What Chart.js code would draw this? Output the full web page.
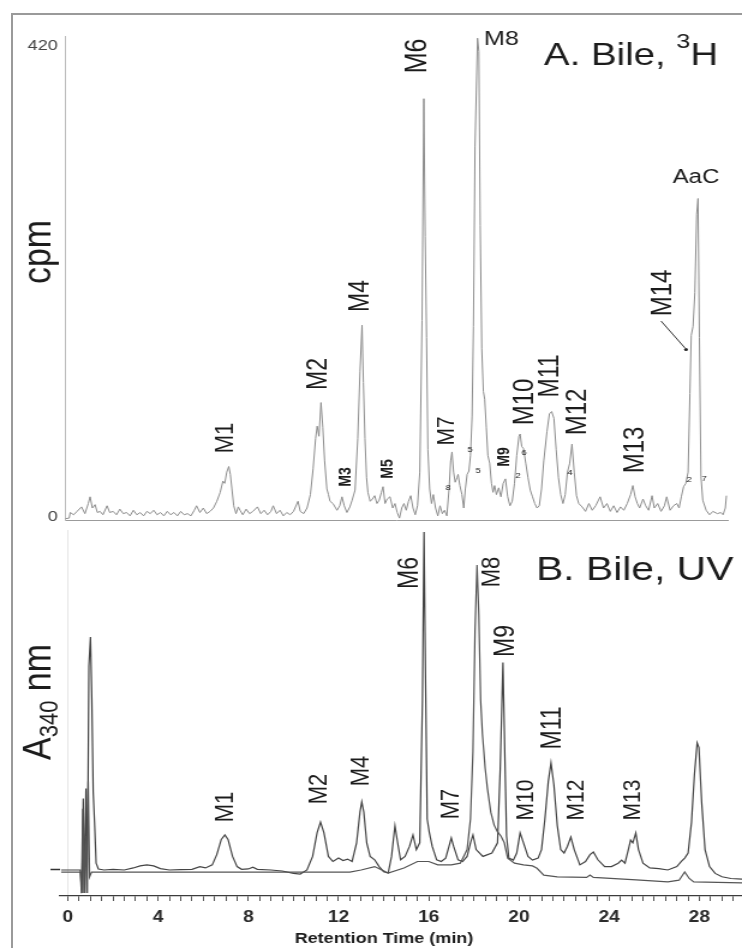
<!DOCTYPE html>
<html>
<head>
<meta charset="utf-8">
<title>Bile: 3H radiochromatogram and UV trace</title>
<script src="https://cdn.jsdelivr.net/npm/chart.js@4.4.1/dist/chart.umd.min.js"></script>
<style>
  html, body { margin: 0; background: #fff; }
  #fig { position: relative; width: 742px; height: 948px; overflow: hidden; }
  #frame { position: absolute; left: 11px; top: 13px; width: 760px; height: 960px;
           border-top: 2px solid #9a9a9a; border-left: 2px solid #9a9a9a; }
  canvas { position: absolute; left: 0; transform-origin: 0 0; }
</style>
</head>
<body>
<div id="fig">
  <div id="frame"></div>
  <canvas id="chartA" width="618" height="540" style="top:0"></canvas>
  <canvas id="chartB" width="618" height="418" style="top:530px"></canvas>
</div>
<script>
// ---- data ----
// A. radioactivity (cpm) against retention time (min)
const timeA = [
  -0.12, 0.05, 0.1, 0.25, 0.4, 0.6, 0.75, 0.9, 0.98, 1.08,
  1.2, 1.3, 1.42, 1.55, 1.73, 1.85, 2.0, 2.15, 2.3, 2.45,
  2.6, 2.75, 2.9, 3.05, 3.2, 3.35, 3.5, 3.65, 3.8, 3.95,
  4.1, 4.25, 4.4, 4.55, 4.7, 4.85, 5.0, 5.15, 5.3, 5.45,
  5.6, 5.7, 5.85, 6.0, 6.15, 6.3, 6.45, 6.6, 6.75, 6.87,
  6.95, 7.04, 7.13, 7.2, 7.27, 7.35, 7.45, 7.55, 7.63, 7.75,
  7.9, 8.05, 8.2, 8.4, 8.55, 8.7, 8.85, 9.0, 9.1, 9.25,
  9.4, 9.55, 9.7, 9.85, 10.0, 10.2, 10.3, 10.45, 10.6, 10.75,
  10.87, 10.98, 11.05, 11.13, 11.22, 11.3, 11.38, 11.48, 11.55, 11.62,
  11.75, 11.93, 12.05, 12.15, 12.25, 12.37, 12.5, 12.6, 12.73, 12.85,
  12.95, 13.04, 13.1, 13.17, 13.24, 13.3, 13.4, 13.5, 13.6, 13.7,
  13.8, 13.9, 13.97, 14.06, 14.15, 14.28, 14.4, 14.5, 14.6, 14.7,
  14.8, 14.9, 15.0, 15.1, 15.2, 15.3, 15.4, 15.5, 15.6, 15.7,
  15.78, 15.84, 15.9, 15.96, 16.04, 16.12, 16.2, 16.3, 16.4, 16.5,
  16.6, 16.7, 16.8, 16.9, 16.97, 17.03, 17.1, 17.17, 17.25, 17.3,
  17.38, 17.47, 17.55, 17.62, 17.7, 17.78, 17.85, 17.92, 17.98, 18.05,
  18.16, 18.22, 18.28, 18.35, 18.42, 18.48, 18.55, 18.62, 18.7, 18.78,
  18.85, 18.92, 19.0, 19.1, 19.2, 19.3, 19.4, 19.5, 19.6, 19.7,
  19.8, 19.9, 20.0, 20.05, 20.12, 20.2, 20.3, 20.4, 20.5, 20.6,
  20.7, 20.8, 20.9, 21.0, 21.1, 21.24, 21.35, 21.45, 21.55, 21.65,
  21.75, 21.85, 21.95, 22.05, 22.15, 22.25, 22.35, 22.45, 22.55, 22.65,
  22.8, 22.95, 23.1, 23.25, 23.4, 23.6, 23.75, 23.9, 24.05, 24.2,
  24.35, 24.5, 24.65, 24.8, 24.95, 25.05, 25.15, 25.25, 25.35, 25.5,
  25.62, 25.75, 25.9, 26.0, 26.15, 26.3, 26.45, 26.55, 26.7, 26.85,
  27.0, 27.1, 27.2, 27.3, 27.4, 27.5, 27.58, 27.64, 27.72, 27.8,
  27.88, 27.94, 28.0, 28.07, 28.15, 28.3, 28.45, 28.6, 28.8, 28.95,
  29.05, 29.15, 29.2
];
const cpmA = [
  -1.5, -1, 4, 2, 5, 9, 3, 12, 18, 8,
  11, 4, 5, 2, 10, 4, 5, 2, 7, 3,
  4, 1, 6, 2, 4, 1, 5, 3, 6, 2,
  4, 1, 5, 2, 4, 1, 5, 2, 3, 1,
  6, 10, 4, 8, 3, 5, 8, 14, 22, 32,
  30, 40, 45, 38, 25, 10, 3, 9, 6, 2,
  7, 3, 5, 9, 3, 6, 2, 5, 10, 3,
  6, 1, 4, 2, 5, 14, 5, 3, 8, 20,
  43, 70, 81, 72, 102, 80, 50, 25, 20, 14,
  12, 6, 10, 18, 10, 4, 9, 15, 24, 70,
  130, 171, 120, 70, 35, 22, 14, 16, 19, 12,
  15, 22, 27, 12, 16, 18, 8, 12, 4, -1,
  8, 12, 6, 14, 19, 8, 2, 10, 40, 175,
  373, 250, 160, 60, 25, 12, 20, 8, 1, 10,
  3, 6, 1, 25, 50, 58, 40, 31, 35, 38,
  28, 20, 8, 25, 38, 41, 55, 90, 170, 330,
  427, 415, 260, 150, 112, 105, 80, 55, 48, 30,
  22, 28, 20, 26, 18, 30, 34, 18, 10, 14,
  30, 55, 72, 74, 63, 61, 48, 35, 24, 18,
  12, 8, 10, 25, 50, 76, 92, 94, 88, 60,
  35, 20, 12, 20, 40, 48, 65, 40, 19, 12,
  9, 5, 12, 6, 10, 18, 8, 12, 5, 10,
  4, 9, 6, 12, 20, 28, 18, 12, 8, 16,
  10, 6, 19, 8, 12, 5, 10, 18, 6, 10,
  12, 8, 18, 27, 30, 40, 110, 162, 170, 200,
  270, 284, 160, 36, 15, 6, 2, 5, 3, 4,
  2, 8, 19
];

// B. absorbance at 340 nm, two overlaid traces (arbitrary units, 0 = baseline)
const timeUV1 = [
  -0.3, 0.55, 0.62, 0.68, 0.73, 0.8, 0.86, 0.93, 1.0, 1.06,
  1.12, 1.18, 1.25, 1.35, 1.6, 2.0, 2.5, 2.9, 3.2, 3.5,
  3.8, 4.1, 4.5, 5.0, 5.5, 5.85, 6.1, 6.4, 6.6, 6.8,
  6.96, 7.1, 7.3, 7.5, 7.7, 8.0, 8.2, 8.4, 9.0, 9.5,
  10.0, 10.3, 10.6, 10.85, 11.05, 11.2, 11.35, 11.55, 11.75, 12.0,
  12.2, 12.4, 12.6, 12.8, 12.95, 13.03, 13.12, 13.25, 13.4, 13.6,
  13.8, 14.0, 14.2, 14.35, 14.5, 14.62, 14.75, 14.95, 15.15, 15.3,
  15.45, 15.6, 15.72, 15.79, 15.85, 15.93, 16.02, 16.15, 16.35, 16.55,
  16.75, 16.9, 17.0, 17.1, 17.3, 17.5, 17.7, 17.85, 17.96, 18.1,
  18.4, 18.8, 19.05, 19.17, 19.29, 19.37, 19.45, 19.55, 19.75, 19.9,
  20.05, 20.2, 20.4, 20.6, 20.85, 21.0, 21.15, 21.3, 21.42, 21.55,
  21.7, 21.85, 22.0, 22.15, 22.3, 22.45, 22.7, 22.95, 23.15, 23.3,
  23.5, 23.8, 24.1, 24.4, 24.55, 24.7, 24.85, 24.95, 25.05, 25.18,
  25.3, 25.5, 25.8, 26.2, 26.6, 27.0, 27.2, 27.35, 27.5, 27.65,
  27.78, 27.9, 27.98, 28.1, 28.25, 28.45, 28.7, 29.0, 29.4, 29.89
];
const uv1 = [
  0, 0, -6.8, 21, -6.8, 24, -6.8, 60, 68.5, 50,
  23, 14, 2, 0.3, 0, 0.2, 0, 0.6, 1.2, 1.5,
  1.2, 0.4, 0, 0.1, 0.2, 1.0, 0.6, 1.5, 4.5, 9,
  10.3, 9, 4, 1, 0.2, 0.3, 0.8, 0.2, 0, -0.3,
  -1, -1.2, 0, 4, 11, 14.1, 11, 4, 2.5, 3.5,
  2.8, 3.2, 2.5, 8, 17, 20, 17, 8, 4, 3,
  1, -0.5, -0.9, 4, 13, 8, 3, 4, 7, 10.3,
  6, 8, 50, 99.4, 60, 15, 11.2, 7, 3, 2.5,
  3.5, 7, 9.4, 7, 3, 2.5, 4, 8, 10.3, 6,
  4, 5, 8, 30, 61, 35, 10, 3.5, 2.9, 5,
  10.9, 8, 4, 2.9, 3.5, 6, 15, 26, 31.5, 25,
  13, 6, 5, 7, 9.7, 6, 1.5, 2.5, 4.5, 5.3,
  3, 1, 1, 2, 2.9, 2, 6, 8.8, 8, 10.9,
  6, 2, 0.6, 0.4, 0, 1, 2.5, 3.5, 5, 14,
  28, 37.4, 36, 20, 6, 1, -1, -2, -2.5, -2.7
];
const timeUV2 = [
  -0.3, 0.55, 0.6, 0.66, 0.71, 0.77, 0.83, 0.9, 0.96, 1.05,
  12.5, 13.0, 13.6, 14.2, 14.9, 15.5, 16.0, 16.4, 17.0, 17.4,
  17.7, 17.85, 17.96, 18.05, 18.14, 18.22, 18.3, 18.38, 18.5, 18.6,
  18.75, 18.9, 19.05, 19.2, 19.35, 19.5, 19.8, 20.2, 20.6, 20.8,
  21.1, 21.7, 23.0, 23.15, 23.3, 25.2, 26.6, 27.1, 27.35, 27.55,
  27.75, 29.89
];
const uv2 = [
  -0.6, -0.6, -6.8, 18, -6.8, 10, -6.8, 26, -2, -0.6,
  -0.6, 0, 1, -0.9, 0.6, 2.5, 2.5, 1.5, 1.5, 2,
  6, 15, 35, 70, 89.7, 75, 50, 40, 30, 24,
  17, 13.2, 11.2, 10, 8, 3.5, 2, 1.5, 1.2, 0.5,
  -1.5, -2, -2.2, -1.5, -2.2, -2.9, -3.5, -3, -0.6, -2.5,
  -3.5, -3.8
];

const xTickLabels = [0, 4, 8, 12, 16, 20, 24, 28];
const cpmTicks = [0, 420];

// ---- layout ----
const S = 742 / 618;   // the figure is stretched horizontally, so both canvases are too
const FONT = '"Liberation Sans", Arial, Helvetica, sans-serif';

// label anchors are in page pixels: x = left / centre / baseline (rotated), y = baseline / centre (rotated)
const labelsA = [
  { parts: [{ t: 'A. Bile, ' }, { t: '3', size: 21, dy: -17 }, { t: 'H' }], x: 544, y: 65, size: 32, align: 'left' },
  { t: 'M8', x: 484, y: 45, size: 21, align: 'left' },
  { t: 'AaC', x: 696, y: 183, size: 20 },
  { t: 'cpm', x: 50, y: 252, size: 34, rot: true },
  { t: 'M1', x: 233, y: 438, size: 22, rot: true },
  { t: 'M2', x: 327, y: 374, size: 23, rot: true },
  { t: 'M4', x: 368, y: 296, size: 23, rot: true },
  { t: 'M6', x: 426, y: 56, size: 25, rot: true },
  { t: 'M7', x: 454, y: 431, size: 21, rot: true },
  { t: 'M10', x: 533, y: 402, size: 24, rot: true },
  { t: 'M11', x: 558, y: 376, size: 23, rot: true },
  { t: 'M12', x: 586, y: 412, size: 24, rot: true },
  { t: 'M13', x: 643, y: 450, size: 24, rot: true },
  { t: 'M14', x: 671, y: 293, size: 24, rot: true },
  { t: 'M3', x: 350, y: 477, size: 14, rot: true, bold: true },
  { t: 'M5', x: 393, y: 469, size: 14, rot: true, bold: true },
  { t: 'M9', x: 509, y: 457, size: 14, rot: true, bold: true },
  { t: '5', x: 470, y: 452, size: 8 },
  { t: '5', x: 478, y: 473, size: 8 },
  { t: '8', x: 448, y: 490, size: 8 },
  { t: '6', x: 524, y: 455, size: 8 },
  { t: '2', x: 518, y: 478, size: 8 },
  { t: '4', x: 570, y: 475, size: 8 },
  { t: '2', x: 689, y: 482, size: 8 },
  { t: '7', x: 704, y: 481, size: 8 }
];
const labelsB = [
  { t: 'B. Bile, UV', x: 536, y: 580, size: 34, align: 'left' },
  { parts: [{ t: 'A' }, { t: '340', size: 22, dy: 6 }, { t: ' nm' }], x: 50, y: 760, size: 34, rot: true, align: 'left' },
  { t: 'M1', x: 233, y: 807, size: 22, rot: true },
  { t: 'M2', x: 327, y: 789, size: 22, rot: true },
  { t: 'M4', x: 368, y: 771, size: 22, rot: true },
  { t: 'M6', x: 418, y: 573, size: 23, rot: true },
  { t: 'M7', x: 459, y: 804, size: 22, rot: true },
  { t: 'M8', x: 499, y: 572, size: 22, rot: true },
  { t: 'M9', x: 514, y: 641, size: 23, rot: true },
  { t: 'M10', x: 533, y: 800, size: 21, rot: true },
  { t: 'M11', x: 561, y: 728, size: 23, rot: true },
  { t: 'M12', x: 583, y: 800, size: 21, rot: true },
  { t: 'M13', x: 640, y: 800, size: 21, rot: true },
  { t: 'Retention Time (min)', x: 384, y: 943, size: 15, bold: true }
];

function toPoints(xs, ys) {
  return xs.map((x, i) => ({ x: x, y: ys[i] }));
}

function drawText(ctx, L, top) {
  const parts = L.parts || [{ t: L.t }];
  const fontOf = p => (L.bold ? 'bold ' : '') + (p.size || L.size) + 'px ' + FONT;
  ctx.save();
  ctx.translate(L.x / S, L.y - top);
  if (L.rot) ctx.rotate(-Math.PI / 2);
  ctx.fillStyle = '#1c1c1c';
  ctx.textBaseline = 'alphabetic';
  ctx.textAlign = 'left';
  let w = 0;
  parts.forEach(p => { ctx.font = fontOf(p); w += ctx.measureText(p.t).width; });
  let x = L.align === 'left' ? 0 : -w / 2;
  parts.forEach(p => {
    ctx.font = fontOf(p);
    ctx.fillText(p.t, x, p.dy || 0);
    x += ctx.measureText(p.t).width;
  });
  ctx.restore();
}

function textLayer(items, top, extra) {
  return {
    id: 'textLayer',
    afterDraw(chart) {
      items.forEach(L => drawText(chart.ctx, L, top));
      if (extra) extra(chart.ctx);
    }
  };
}

// pointer from the M14 label to its shoulder on the AaC peak
function drawM14Pointer(ctx) {
  ctx.save();
  ctx.strokeStyle = '#333';
  ctx.lineWidth = 1;
  ctx.beginPath();
  ctx.moveTo(661 / S, 321);
  ctx.lineTo(685 / S, 348);
  ctx.stroke();
  ctx.fillStyle = '#222';
  ctx.beginPath();
  ctx.arc(686 / S, 349.5, 1.6, 0, Math.PI * 2);
  ctx.fill();
  ctx.restore();
}

const fitWidth = w => scale => { scale.width = w; };
const fitHeight = h => scale => { scale.height = h; };

document.querySelectorAll('canvas').forEach(c => { c.style.transform = 'scaleX(' + S + ')'; });

// 1. A. Bile, 3H
new Chart(document.getElementById('chartA'), {
  type: 'line',
  data: {
    datasets: [{
      data: toPoints(timeA, cpmA),
      borderColor: '#8d8d8d',
      borderWidth: 1,
      pointRadius: 0,
      tension: 0
    }]
  },
  options: {
    responsive: false,
    animation: false,
    events: [],
    layout: { padding: { left: 0, right: 618 - 728 / S, top: 36, bottom: 20 } },
    plugins: { legend: { display: false }, tooltip: { enabled: false } },
    scales: {
      x: {
        type: 'linear', min: -0.133, max: 29.27,
        ticks: { display: false },
        grid: { display: false, drawTicks: false },
        border: { color: '#9b9b9b', width: 1 },
        afterFit: fitHeight(0)
      },
      y: {
        min: -2.68, max: 428.9,
        afterBuildTicks: s => { s.ticks = cpmTicks.map(value => ({ value })); },
        ticks: { color: '#444', font: { family: FONT, size: 15 }, padding: 6 },
        grid: { display: false, drawTicks: false },
        border: { color: '#bdbdbd', width: 1 },
        afterFit: fitWidth(65 / S)
      }
    }
  },
  plugins: [textLayer(labelsA, 0, drawM14Pointer)]
});

// 2. B. Bile, UV
new Chart(document.getElementById('chartB'), {
  type: 'line',
  data: {
    datasets: [
      { data: toPoints(timeUV2, uv2), borderColor: '#555', borderWidth: 1.2, pointRadius: 0, tension: 0 },
      { data: toPoints(timeUV1, uv1), borderColor: '#444', borderWidth: 1.2, pointRadius: 0, tension: 0 }
    ]
  },
  options: {
    responsive: false,
    animation: false,
    events: [],
    layout: { padding: 0 },
    plugins: { legend: { display: false }, tooltip: { enabled: false } },
    scales: {
      x: {
        type: 'linear', min: -0.351, max: 29.89,
        ticks: {
          stepSize: 0.5, autoSkip: false, maxRotation: 0, includeBounds: false, padding: 7,
          color: '#2b2b2b', font: { family: FONT, size: 16, weight: 'bold' },
          callback: v => xTickLabels.includes(v) ? String(v) : ''
        },
        grid: {
          color: c => (c.tick && c.tick.value === 0) ? 'rgba(0,0,0,0.10)' : 'rgba(0,0,0,0)',
          tickColor: '#555', tickLength: 5, lineWidth: 1
        },
        border: { color: '#3c3c3c', width: 1.3 },
        afterFit: fitHeight(52)
      },
      y: {
        min: -7.65, max: 100,
        afterBuildTicks: s => { s.ticks = [{ value: 0 }]; },
        ticks: { display: false },
        grid: { drawOnChartArea: false, tickLength: 8, tickColor: '#333', tickWidth: 1.5 },
        border: { display: false },
        afterFit: fitWidth(60 / S)
      }
    }
  },
  plugins: [textLayer(labelsB, 530)]
});
</script>
</body>
</html>
